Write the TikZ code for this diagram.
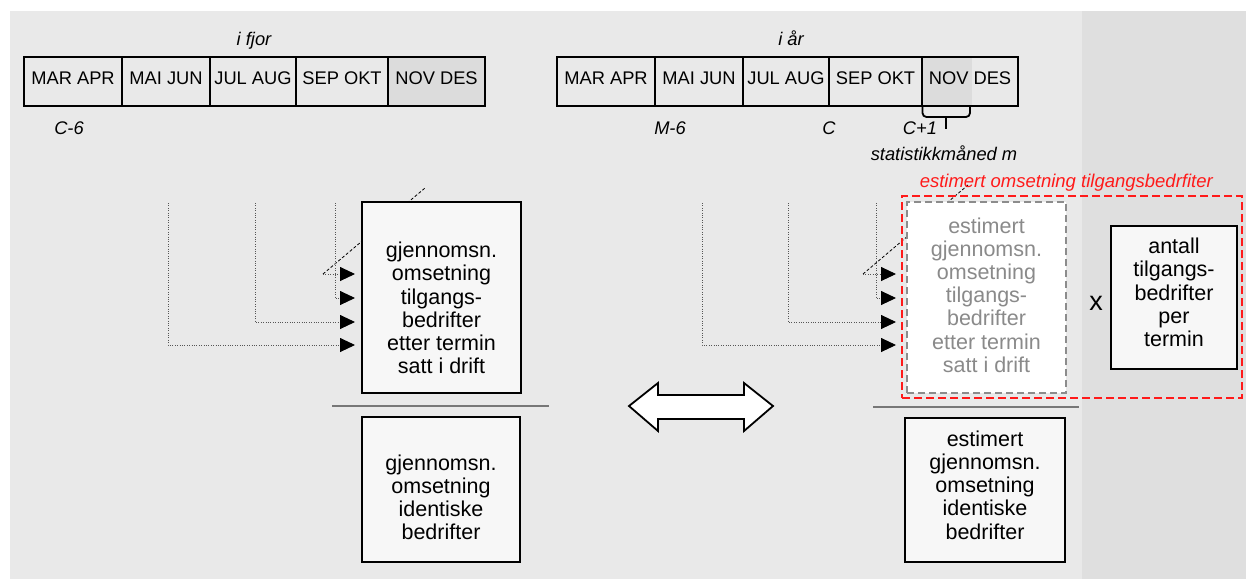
\documentclass[tikz,border=0pt]{standalone}
\usepackage{fontspec}
\setmainfont{Liberation Sans}
\usetikzlibrary{arrows.meta}
\definecolor{bgmain}{HTML}{E9E9E9}
\definecolor{bgdark}{HTML}{DFDFDF}
\definecolor{cellshade}{HTML}{DCDCDC}
\definecolor{boxfill}{HTML}{F7F7F7}
\definecolor{graytxt}{HTML}{8A8A8A}
\definecolor{graydash}{HTML}{8C8C8C}
\definecolor{dotcol}{HTML}{555555}
\definecolor{fraccol}{HTML}{777777}
\definecolor{redline}{HTML}{FF1A1A}
\begin{document}
\begin{tikzpicture}[x=1pt,y=-1pt,
  cell/.style={draw=black, line width=1.8pt, minimum height=49pt, inner sep=0pt,
    text height=10pt, text depth=3.4pt, font=\fontsize{18.3}{21}\selectfont},
  lbl/.style={font=\fontsize{18.3}{21}\selectfont\itshape, inner sep=0pt, anchor=base},
  box/.style={draw=black, line width=2pt, fill=boxfill, inner sep=0pt},
  boxtxt/.style={align=center, inner sep=0pt, font=\fontsize{21.5}{23.2}\selectfont},
  conn/.style={draw=dotcol, line width=0.9pt, dash pattern=on 1pt off 1.4pt,
    -{Triangle[length=15pt,width=14pt,color=black]}},
  diag/.style={draw=black, line width=0.8pt, dash pattern=on 3pt off 2pt},
  fracline/.style={draw=fraccol, line width=2pt},
]
\useasboundingbox (0,0) rectangle (1246,579);
% backgrounds
\fill[white] (0,0) rectangle (1246,579);
\fill[bgmain] (10,11) rectangle (1246,579);
\fill[bgdark] (1082,11) rectangle (1246,579);

% timeline shading
\fill[cellshade] (388,57) rectangle (485,106);
\fill[cellshade] (922,57) rectangle (972,106);

% last year timeline
\node[lbl] (fjor) at (254,45) {i fjor};
\node[cell, minimum width=98pt] (f1) at (73,81.5) {MAR APR};
\node[cell, minimum width=88pt] (f2) at (166,81.5) {MAI JUN};
\node[cell, minimum width=86pt] (f3) at (253,81.5) {JUL AUG};
\node[cell, minimum width=92pt] (f4) at (342,81.5) {SEP OKT};
\node[cell, minimum width=97pt] (f5) at (436.5,81.5) {NOV DES};
\node[lbl] (c6) at (69,134) {C-6};

% this year timeline
\node[lbl] (aar) at (791,45) {i år};
\node[cell, minimum width=98pt] (a1) at (606,81.5) {MAR APR};
\node[cell, minimum width=88pt] (a2) at (699,81.5) {MAI JUN};
\node[cell, minimum width=86pt] (a3) at (786,81.5) {JUL AUG};
\node[cell, minimum width=93pt] (a4) at (875.5,81.5) {SEP OKT};
\node[cell, minimum width=96pt] (a5) at (970,81.5) {NOV DES};
\node[lbl] (m6) at (670,134) {M-6};
\node[lbl] (cc) at (829,134) {C};
\node[lbl] (cp1) at (920,134) {C+1};
\node[lbl] (stat) at (944,160) {statistikkmåned m};
\draw[line width=1.8pt, rounded corners=4pt] (922.5,106) -- (922.5,117) -- (970,117) -- (970,106);
\draw[line width=1.8pt] (946,116) -- (946,129);

% left connectors
\coordinate (ls1) at (168,203);
\coordinate (ls2) at (255,203);
\coordinate (ls3) at (335,203);
\coordinate (ls4) at (323,274);
\coordinate (le1) at (355,345);
\coordinate (le2) at (355,322);
\coordinate (le3) at (355,298);
\coordinate (le4) at (355,274);
\coordinate (ld) at (425,188);
\draw[diag] (ls4) -- (ld);
\draw[conn] (ls1) |- (le1);
\draw[conn] (ls2) |- (le2);
\draw[conn] (ls3) |- (le3);
\draw[conn] (ls4) -- (le4);

% right connectors
\coordinate (rs1) at (702,203);
\coordinate (rs2) at (788,203);
\coordinate (rs3) at (876,203);
\coordinate (rs4) at (863,274);
\coordinate (re1) at (896,345);
\coordinate (re2) at (896,322);
\coordinate (re3) at (896,298);
\coordinate (re4) at (896,274);
\coordinate (rd) at (968,185);
\draw[diag] (rs4) -- (rd);
\draw[conn] (rs1) |- (re1);
\draw[conn] (rs2) |- (re2);
\draw[conn] (rs3) |- (re3);
\draw[conn] (rs4) -- (re4);

% left boxes
\node[box, minimum width=159pt, minimum height=191pt] (b1) at (441.5,297.5) {};
\node[boxtxt] (t1) at (441.5,308) {gjennomsn.\\omsetning\\tilgangs-\\bedrifter\\etter termin\\satt i drift};
\draw[fracline] (332,406) -- (549,406);
\node[box, minimum width=158pt, minimum height=145pt] (b2) at (441,489.5) {};
\node[boxtxt] (t2) at (441,497.5) {gjennomsn.\\omsetning\\identiske\\bedrifter};

% double arrow
\draw[line width=1.8pt, fill=white, line join=miter] (629,406) -- (658,383) -- (658,395) -- (744,395) -- (744,383) -- (773,406) -- (744,431) -- (744,419) -- (658,419) -- (658,431) -- cycle;

% right boxes
\node[draw=redline, line width=2pt, dash pattern=on 8pt off 4pt, minimum width=340pt, minimum height=202pt, inner sep=0pt] (red) at (1072,297) {};
\node[font=\fontsize{18.5}{21}\selectfont\itshape, text=redline, inner sep=0pt, anchor=base east] (redt) at (1213,187) {estimert omsetning tilgangsbedrfiter};
\node[draw=graydash, fill=white, line width=1.6pt, dash pattern=on 7pt off 4pt, minimum width=159pt, minimum height=191pt, inner sep=0pt] (g1) at (986.5,297.5) {};
\node[boxtxt, text=graytxt] (gt) at (986.5,295) {estimert\\gjennomsn.\\omsetning\\tilgangs-\\bedrifter\\etter termin\\satt i drift};
\node[font=\fontsize{27}{28}\selectfont, inner sep=0pt] (xx) at (1096,303) {x};
\node[box, minimum width=126pt, minimum height=143pt] (b4) at (1174,297.5) {};
\node[boxtxt] (t4) at (1174,292.5) {antall\\tilgangs-\\bedrifter\\per\\termin};
\draw[fracline] (873,407) -- (1079,407);
\node[box, minimum width=160pt, minimum height=144pt] (b3) at (985,490) {};
\node[boxtxt] (t3) at (985,485) {estimert\\gjennomsn.\\omsetning\\identiske\\bedrifter};
\end{tikzpicture}
\end{document}
